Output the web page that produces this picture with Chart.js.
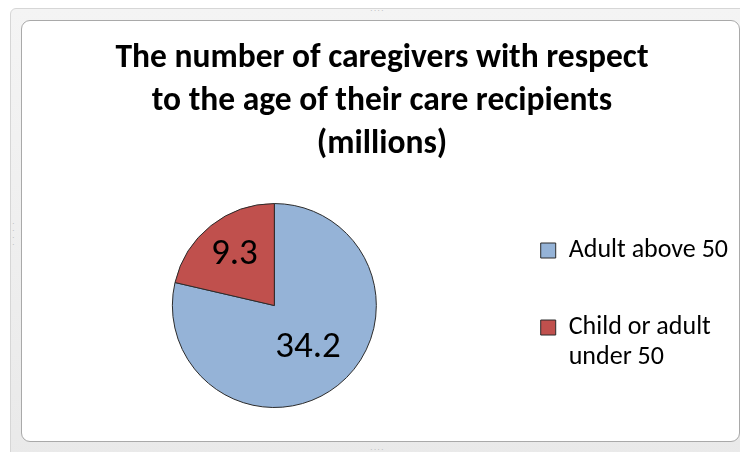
<!DOCTYPE html>
<html>
<head>
<meta charset="utf-8">
<script src="https://cdn.jsdelivr.net/npm/chart.js@4.4.0/dist/chart.umd.min.js"></script>
<style>
  html, body { margin: 0; padding: 0; background: #ffffff; overflow: hidden; }
  body { width: 740px; height: 452px; position: relative; }
  #frame {
    position: absolute; left: 10px; top: 8px; width: 780px; height: 470px;
    background: linear-gradient(#f4f4f4, #e9e9e9);
    border: 1px solid #d6d6d6; border-radius: 6px; box-sizing: border-box;
  }
  #inner {
    position: absolute; left: 21px; top: 20px; width: 719px; height: 422px;
    background: #ffffff; border: 1px solid #a9a9a9; border-radius: 9px;
    box-sizing: border-box; overflow: hidden;
  }
  #wrap { position: absolute; left: 0px; top: 0px; width: 730px; height: 421px; }
  .dots { position: absolute; color: #b0b0b0; font: 8px sans-serif; letter-spacing: 1px; line-height: 7px; }
</style>
</head>
<body>
<div id="frame"></div>
<div class="dots" style="left:370px;top:7px;">····</div>
<div class="dots" style="left:370px;top:446px;">····</div>
<div class="dots" style="left:12px;top:220px;width:4px;">·<br>·<br>·<br>·</div>
<div id="inner"><div id="wrap"><canvas id="c"></canvas></div></div>
<script>
const titleLines = ["The number of caregivers with respect", "to the age of their care recipients", "(millions)"];
const categories = [["Adult above 50", ""], ["Child or adult", "under 50"]];
const values = [34.2, 9.3];
const valueLabels = ["34.2", "9.3"];
const sliceColors = ["#95b3d7", "#c0504d"];

const sliceLabelPlugin = {
  id: "sliceLabels",
  afterDatasetsDraw(chart, args, opts) {
    const ctx = chart.ctx;
    const meta = chart.getDatasetMeta(0);
    ctx.save();
    ctx.font = opts.font;
    ctx.fillStyle = opts.color;
    ctx.textAlign = "center";
    ctx.textBaseline = "middle";
    meta.data.forEach((arc, i) => {
      const p = arc.getProps(["x", "y", "startAngle", "endAngle", "outerRadius"], true);
      const mid = (p.startAngle + p.endAngle) / 2;
      const r = p.outerRadius * opts.radii[i];
      ctx.fillText(valueLabels[i], p.x + Math.cos(mid) * r, p.y + Math.sin(mid) * r);
    });
    ctx.restore();
  }
};

new Chart(document.getElementById("c"), {
  type: "pie",
  data: {
    labels: categories,
    datasets: [{
      data: values,
      backgroundColor: sliceColors,
      borderColor: "#2b2b2b",
      borderWidth: 1,
      hoverOffset: 0,
      offset: 0
    }]
  },
  options: {
    responsive: true,
    maintainAspectRatio: false,
    animation: false,
    events: [],
    layout: { padding: { left: 4, right: 14, top: 0, bottom: 34 } },
    plugins: {
      title: {
        display: true,
        text: titleLines,
        color: "#000000",
        font: { family: "Carlito, Lato, sans-serif", size: 33.5, weight: "bold", lineHeight: 1.284 },
        padding: { top: 16, bottom: 37 }
      },
      legend: {
        position: "right",
        fullSize: false,
        labels: {
          color: "#000000",
          font: { family: "Carlito, Lato, sans-serif", size: 26, lineHeight: 1.135 },
          boxWidth: 15,
          boxHeight: 15,
          padding: 18
        }
      },
      tooltip: { enabled: false },
      sliceLabels: { font: "37px Carlito, Lato, sans-serif", color: "#000000", radii: [0.53, 0.63] }
    }
  },
  plugins: [sliceLabelPlugin]
});
</script>
</body>
</html>
